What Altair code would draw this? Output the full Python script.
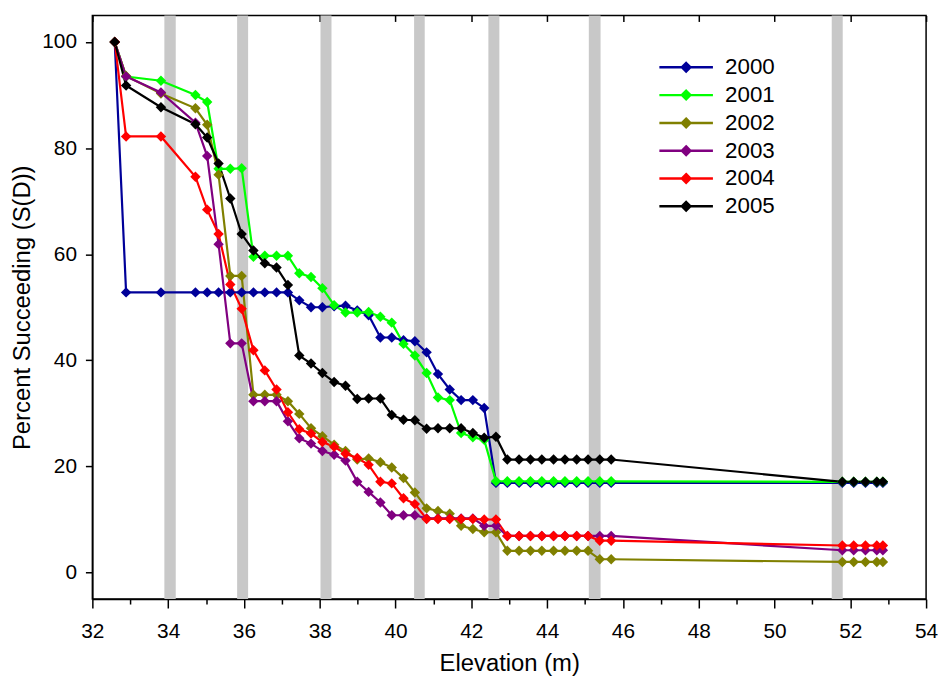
import altair as alt
import pandas as pd

# Elevations (m) at which the survival values were recorded
elevation = [32.59, 32.89, 33.81, 34.72, 35.03, 35.33, 35.64, 35.94, 36.25, 36.55,
             36.86, 37.16, 37.46, 37.77, 38.07, 38.38, 38.68, 38.99, 39.29, 39.60,
             39.90, 40.21, 40.51, 40.82, 41.12, 41.43, 41.73, 42.04, 42.34, 42.65,
             42.95, 43.26, 43.56, 43.86, 44.17, 44.47, 44.78, 45.08, 45.39, 45.69,
             51.79, 52.09, 52.40, 52.70, 52.86]

years = ["2000", "2001", "2002", "2003", "2004", "2005"]

s2000 = [100, 52.8, 52.8, 52.8, 52.8, 52.8, 52.8, 52.8, 52.8, 52.8,
         52.8, 52.8, 51.3, 50.0, 50.0, 50.2, 50.3, 49.4, 48.5, 44.3,
         44.3, 43.8, 43.6, 41.5, 37.4, 34.5, 32.5, 32.5, 31.0, 16.9,
         16.9, 16.9, 16.9, 16.9, 16.9, 16.9, 16.9, 16.9, 16.9, 16.9,
         16.9, 16.9, 16.9, 16.9, 16.9]
s2001 = [100, 93.5, 92.7, 90.0, 88.7, 76.1, 76.1, 76.2, 59.5, 59.7,
         59.7, 59.7, 56.4, 55.7, 53.6, 50.4, 49.0, 49.0, 49.1, 48.2,
         47.1, 43.1, 40.9, 37.6, 33.0, 32.5, 26.3, 25.5, 25.0, 17.2,
         17.2, 17.2, 17.2, 17.2, 17.2, 17.2, 17.2, 17.2, 17.2, 17.2,
         17.1, 17.1, 17.1, 17.1, 17.1]
s2002 = [100, 93.6, 90.3, 87.5, 84.4, 75.0, 55.9, 55.9, 33.5, 33.5,
         33.5, 32.3, 29.9, 27.2, 25.7, 24.1, 22.9, 21.3, 21.5, 20.8,
         19.8, 17.8, 15.1, 12.1, 11.6, 11.1, 8.8, 8.2, 7.6, 7.6,
         4.1, 4.1, 4.1, 4.1, 4.1, 4.1, 4.1, 4.1, 2.5, 2.5,
         2.0, 2.0, 2.0, 2.0, 2.0]
s2003 = [100, 93.5, 90.5, 84.8, 78.5, 61.9, 43.2, 43.2, 32.3, 32.3,
         32.3, 28.5, 25.3, 24.3, 22.9, 22.2, 21.1, 17.1, 15.2, 13.2,
         10.8, 10.8, 10.8, 10.2, 10.2, 10.2, 10.2, 10.2, 8.8, 8.8,
         6.9, 6.9, 6.9, 6.9, 6.9, 6.9, 6.9, 6.9, 6.9, 6.9,
         4.2, 4.2, 4.2, 4.2, 4.2]
s2004 = [100, 82.2, 82.2, 74.6, 68.4, 63.8, 54.3, 49.7, 41.9, 38.1,
         34.5, 30.2, 27.0, 26.2, 24.6, 23.7, 22.4, 21.6, 20.3, 17.1,
         16.8, 14.0, 12.9, 10.1, 10.1, 10.1, 10.1, 10.1, 10.0, 10.0,
         6.9, 6.9, 6.9, 6.9, 6.9, 6.9, 6.9, 6.9, 6.0, 6.0,
         5.1, 5.1, 5.1, 5.1, 5.1]
s2005 = [100, 91.8, 87.7, 84.5, 82.0, 77.1, 70.5, 63.8, 60.7, 58.3,
         57.5, 54.2, 40.9, 39.4, 37.6, 35.9, 35.2, 32.7, 32.8, 32.8,
         29.7, 28.8, 28.7, 27.1, 27.2, 27.2, 27.2, 26.3, 25.4, 25.6,
         21.3, 21.3, 21.3, 21.3, 21.3, 21.3, 21.3, 21.3, 21.3, 21.3,
         17.1, 17.1, 17.1, 17.1, 17.1]

series = [s2000, s2001, s2002, s2003, s2004, s2005]
colors = ["#000099", "#00FF00", "#808000", "#800080", "#FF0000", "#000000"]

# Grey vertical bands
band_start = [33.90, 35.82, 38.02, 40.49, 42.45, 45.10, 51.51]
band_end = [34.20, 36.11, 38.31, 40.77, 42.74, 45.41, 51.80]

x_major = [32, 34, 36, 38, 40, 42, 44, 46, 48, 50, 52, 54]
x_minor = [33, 35, 37, 39, 41, 43, 45, 47, 49, 51, 53]
y_ticks = [0, 20, 40, 60, 80, 100]

rows = []
for yr, vals in zip(years, series):
    for e, v in zip(elevation, vals):
        rows.append({"Year": yr, "Elevation": e, "Pct": v})
df = pd.DataFrame(rows)
bands = pd.DataFrame({"start": band_start, "end": band_end})

FONT = "Arial"
xscale = alt.Scale(domain=[32, 54], nice=False, zero=False)
yscale = alt.Scale(domain=[-5, 105], nice=False, zero=False)

band_layer = alt.Chart(bands).mark_rect(color="#C8C8C8").encode(
    x=alt.X("start:Q", scale=xscale,
            axis=alt.Axis(values=x_minor, tickSize=5, labels=False, title=None,
                          domain=False, grid=False, orient="bottom",
                          tickColor="black", tickWidth=1.5)),
    x2="end:Q",
)

# invisible layer carrying the inward ticks along the top frame
top_layer = alt.Chart(bands).mark_rect(opacity=0).encode(
    x=alt.X("start:Q", scale=xscale,
            axis=alt.Axis(values=x_major, tickSize=6, labels=False, title=None,
                          domain=False, grid=False, orient="top", offset=-6,
                          tickColor="black", tickWidth=1.5)),
    x2="end:Q",
)

legend_path = ("M-2.84,0L2.84,0"
               "M0,-0.45L0.45,0L0,0.45L-0.45,0Z"
               "M0,-0.25L0.25,0L0,0.25L-0.25,0Z"
               "M-0.1,0L0.1,0")

line_layer = alt.Chart(df).mark_line(
    strokeWidth=2.2,
    point=alt.OverlayMarkDef(shape="diamond", filled=True, size=110),
).encode(
    x=alt.X("Elevation:Q", scale=xscale,
            axis=alt.Axis(values=x_major, tickSize=9, title="Elevation (m)",
                          orient="bottom", labelPadding=13, titlePadding=10,
                          labelFlush=False, tickWidth=1.5, domainWidth=1.5)),
    y=alt.Y("Pct:Q", scale=yscale,
            axis=alt.Axis(values=y_ticks, tickSize=7, labelPadding=9,
                          title="Percent Succeeding (S(D))", titlePadding=7,
                          labelFlush=False, tickWidth=1.5, domainWidth=1.5)),
    color=alt.Color("Year:N", scale=alt.Scale(domain=years, range=colors),
                    legend=alt.Legend(title=None, orient="none", legendX=587,
                                      legendY=41, symbolType=legend_path,
                                      symbolSize=361, symbolStrokeWidth=2.5,
                                      labelFontSize=22.5, labelFont=FONT,
                                      labelColor="black", labelOffset=28,
                                      rowPadding=5, padding=0)),
)

chart = alt.layer(band_layer, top_layer, line_layer).resolve_axis(x="independent").properties(
    width=840, height=588,
    padding={"left": 2, "top": 4, "right": 0, "bottom": 0},
    background="white",
).configure_view(
    stroke="black", strokeWidth=1.5
).configure_axis(
    labelFont=FONT, titleFont=FONT, labelFontSize=21, titleFontSize=24,
    labelColor="black", titleColor="black", tickColor="black",
    domainColor="black", titleFontWeight="normal", grid=False,
)

chart.save("out.html", embed_options={"renderer": "svg", "actions": False})
